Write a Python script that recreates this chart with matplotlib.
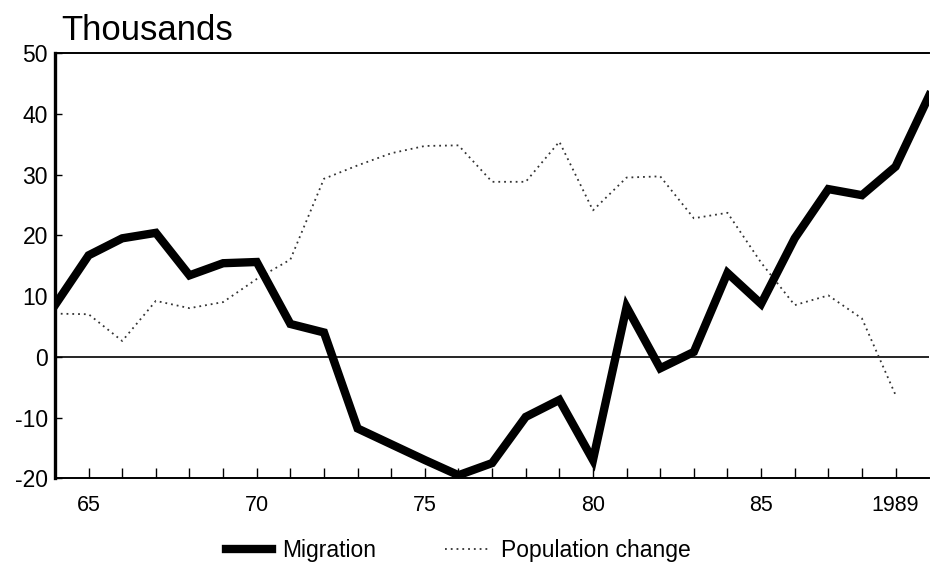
import numpy as np
import matplotlib.pyplot as plt

plt.rcParams['font.family'] = ['Liberation Sans', 'DejaVu Sans']
plt.rcParams['axes.unicode_minus'] = False

# data (thousands)
years = list(range(1964, 1991))
migration = [8.5, 16.7, 19.5, 20.4, 13.4, 15.4, 15.6, 5.4, 4.0, -11.8,
             -14.4, -17.0, -19.5, -17.5, -9.9, -7.1, -17.0, 8.2, -1.9, 0.8,
             13.8, 8.7, 19.5, 27.6, 26.6, 31.3, 43.0]
pop_years = list(range(1964, 1990))
pop_change = [7.1, 7.0, 2.6, 9.2, 8.0, 9.0, 12.8, 16.0, 29.3, 31.5,
              33.5, 34.7, 34.8, 28.8, 28.8, 35.4, 24.1, 29.5, 29.7, 22.8,
              23.7, 15.5, 8.5, 10.1, 6.3, -6.3]
tick_years = [1965, 1970, 1975, 1980, 1985, 1989]
tick_labels = ['65', '70', '75', '80', '85', '1989']
yticks = [-20, -10, 0, 10, 20, 30, 40, 50]

fig = plt.figure(figsize=(9.32, 5.64), dpi=100)
ax = fig.add_axes([0.059, 0.152, 0.938, 0.754])

ax.axhline(0, color='black', lw=1.2, zorder=1)
ax.plot(years, migration, color='black', lw=6, solid_joinstyle='miter',
        label='Migration', zorder=3)
ax.plot(pop_years, pop_change, color='#333333', lw=1.3,
        linestyle=(0, (1, 2.2)), label='Population change', zorder=2)

ax.set_xlim(1964, 1990)
ax.set_ylim(-20, 50)

ax.set_xticks(years[:-1])
ax.set_xticklabels([tick_labels[tick_years.index(y)] if y in tick_years else ''
                    for y in years[:-1]])
ax.set_yticks(yticks)
ax.tick_params(axis='x', direction='in', length=7, width=1, labelsize=15.5, pad=12)
ax.tick_params(axis='y', direction='in', length=5, width=1, labelsize=16.5, pad=5)

ax.spines['right'].set_visible(False)
ax.spines['left'].set_linewidth(2.4)
ax.spines['top'].set_linewidth(1.4)
ax.spines['bottom'].set_linewidth(1.4)

fig.text(0.066, 0.946, 'Thousands', fontsize=25, va='center', ha='left')

fig.legend(loc='center', bbox_to_anchor=(0.492, 0.024), ncol=2, frameon=False,
           fontsize=16.5, handlelength=2.0, columnspacing=3.0, handletextpad=0.45)

plt.savefig('out.png', dpi=100)
